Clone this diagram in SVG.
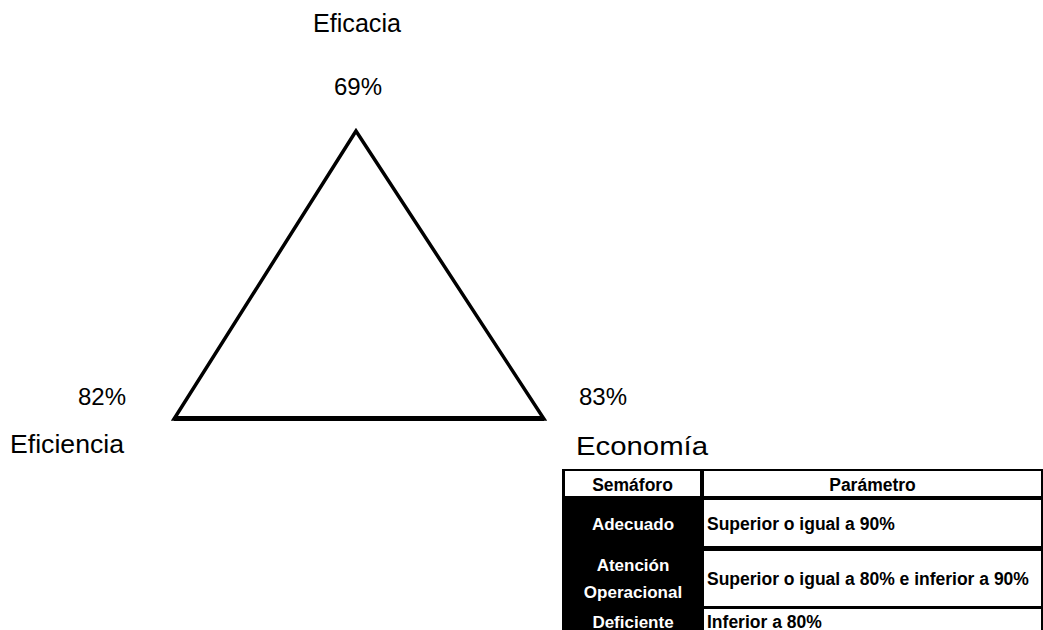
<svg xmlns="http://www.w3.org/2000/svg" width="1043" height="630" viewBox="0 0 1043 630">
<style>
.lbl{font-family:"Liberation Sans",Arial,sans-serif;font-size:25px;fill:#000}
.pct{font-family:"Liberation Sans",Arial,sans-serif;font-size:24px;fill:#000}
.edge{stroke:#000;stroke-width:3.5;fill:none;stroke-linecap:square;stroke-linejoin:miter}
.base{stroke:#000;stroke-width:5;fill:none;stroke-linecap:butt}
.th{font-family:"Liberation Sans",Arial,sans-serif;font-size:17.5px;font-weight:bold;fill:#000}
.tl{font-family:"Liberation Sans",Arial,sans-serif;font-size:17px;font-weight:bold;fill:#fff}
.cell{fill:#fff}
</style>
<rect width="1043" height="630" fill="#fff"/>
<g id="connectors">
<polygon class="edge" points="356,131 174,419 544,419"/>
<line class="base" x1="174" y1="418.5" x2="544" y2="418.5"/>
</g>
<g id="node-eficacia">
<text class="lbl" x="357" y="32" text-anchor="middle" textLength="88" lengthAdjust="spacingAndGlyphs">Eficacia</text>
<text class="pct" x="358" y="95" text-anchor="middle">69%</text>
</g>
<g id="node-eficiencia">
<text class="pct" x="102" y="405" text-anchor="middle">82%</text>
<text class="lbl" x="10" y="453" textLength="114" lengthAdjust="spacingAndGlyphs">Eficiencia</text>
</g>
<g id="node-economia">
<text class="pct" x="603" y="405" text-anchor="middle">83%</text>
<text class="lbl" x="576" y="455" textLength="132" lengthAdjust="spacingAndGlyphs">Economía</text>
</g>
<g id="table">
<rect x="562" y="469" width="481" height="170" fill="#000"/>
<rect class="cell" x="565" y="471" width="135" height="25"/>
<rect class="cell" x="704" y="471" width="337" height="25"/>
<rect class="cell" x="704" y="500" width="337" height="46"/>
<rect class="cell" x="704" y="551" width="337" height="55"/>
<rect class="cell" x="704" y="609" width="337" height="30"/>
<text class="th" x="632.5" y="491" text-anchor="middle">Semáforo</text>
<text class="th" x="872.5" y="491" text-anchor="middle">Parámetro</text>
<text class="tl" x="633" y="530" text-anchor="middle">Adecuado</text>
<text class="tl" x="633" y="571" text-anchor="middle">Atención</text>
<text class="tl" x="633" y="598" text-anchor="middle">Operacional</text>
<text class="tl" x="633" y="628" text-anchor="middle">Deficiente</text>
<text class="th" x="707" y="530">Superior o igual a 90%</text>
<text class="th" x="707" y="585">Superior o igual a 80% e inferior a 90%</text>
<text class="th" x="707" y="628">Inferior a 80%</text>
</g>
</svg>
